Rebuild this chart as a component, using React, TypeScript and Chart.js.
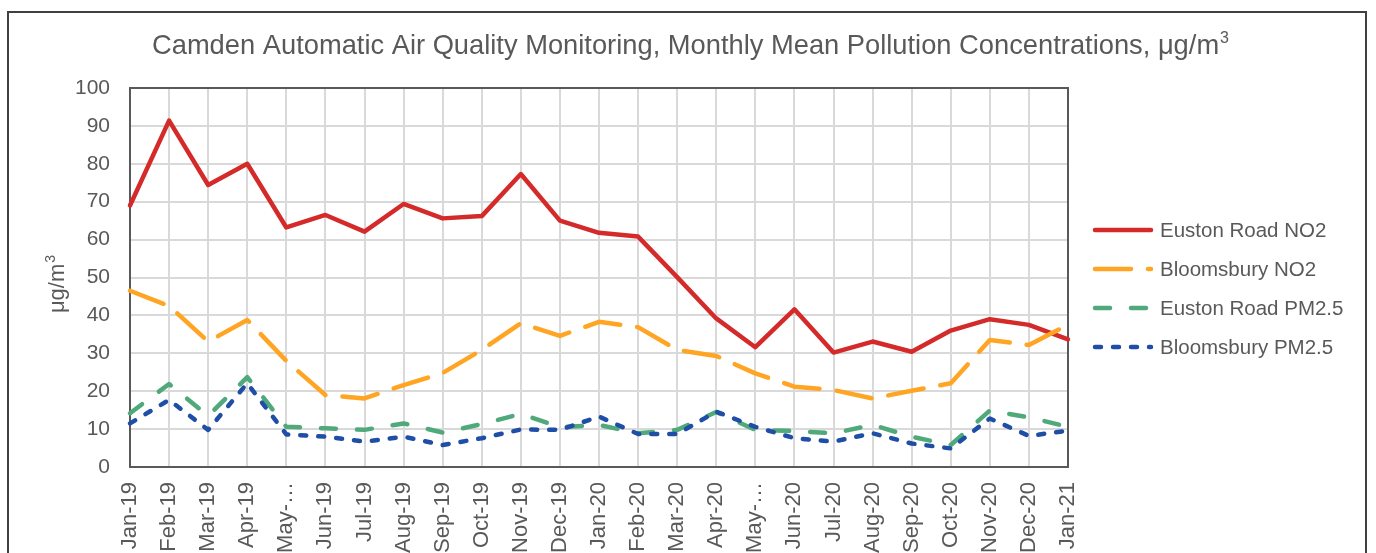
import React, { useEffect, useRef } from "react";
import { Chart, registerables } from "chart.js";
Chart.register(...registerables);

const months = [
  "Jan-19", "Feb-19", "Mar-19", "Apr-19", "May-…", "Jun-19", "Jul-19", "Aug-19", "Sep-19",
  "Oct-19", "Nov-19", "Dec-19", "Jan-20", "Feb-20", "Mar-20", "Apr-20", "May-…", "Jun-20",
  "Jul-20", "Aug-20", "Sep-20", "Oct-20", "Nov-20", "Dec-20", "Jan-21",
];
const eustonNO2 = [69, 91.4, 74.4, 80, 63.2, 66.5, 62.1, 69.4, 65.6, 66.2, 77.3, 65, 61.8, 60.8, 50.1, 39.2, 31.6, 41.6, 30.2, 33.1, 30.4, 36, 39, 37.5, 33.7];
const bloomsburyNO2 = [46.5, 42.5, 33.1, 38.8, 28, 19, 18.1, 21.6, 24.8, 30.9, 37.9, 34.6, 38.3, 36.9, 30.9, 29.3, 24.7, 21.2, 20.3, 18.1, 20.1, 22.1, 33.5, 32.2, 37.5];
const eustonPM25 = [14.2, 21.9, 13.5, 23.7, 10.6, 10.2, 9.8, 11.5, 9.1, 11.3, 14, 10.5, 11.1, 8.9, 9.8, 14.5, 9.8, 9.5, 8.9, 11.1, 8, 5.8, 14.9, 13.1, 10.6];
const bloomsburyPM25 = [11.5, 17.7, 9.8, 22.1, 8.6, 8, 6.7, 8, 5.8, 7.6, 9.9, 9.8, 13.3, 8.7, 8.7, 14.6, 10.6, 7.6, 6.7, 8.9, 6.2, 4.9, 12.8, 8.2, 9.6];
const seriesNames = ["Euston Road NO2", "Bloomsbury NO2", "Euston Road PM2.5", "Bloomsbury PM2.5"];
const seriesColors = ["#D42A2A", "#FFA523", "#4FA97B", "#1F4EA6"];
const seriesDash: number[][] = [[], [36, 17], [15, 21], [6, 12]];

const TITLE_MAIN = "Camden Automatic Air Quality Monitoring, Monthly Mean Pollution Concentrations, μg/m";
const SUP = "3";
const Y_TITLE = "μg/m";
const TEXT = "#595959";
const FONT = "'Liberation Sans', Arial, sans-serif";

const decor = {
  id: "decor",
  beforeDatasetsDraw(chart: any) {
    const { ctx, chartArea } = chart;
    ctx.save();
    ctx.strokeStyle = "#595959";
    ctx.lineWidth = 2;
    ctx.strokeRect(chartArea.left, chartArea.top, chartArea.right - chartArea.left, chartArea.bottom - chartArea.top);
    ctx.restore();
  },
  afterDraw(chart: any) {
    const { ctx, chartArea } = chart;
    ctx.save();
    ctx.fillStyle = TEXT;
    ctx.textBaseline = "alphabetic";
    // title
    ctx.font = `27.3px ${FONT}`;
    const mw = ctx.measureText(TITLE_MAIN).width;
    ctx.font = `16px ${FONT}`;
    const sw = ctx.measureText(SUP).width;
    const cx = chart.width / 2 + 3;
    const x0 = cx - (mw + sw) / 2;
    ctx.font = `27.3px ${FONT}`;
    ctx.textAlign = "left";
    ctx.fillText(TITLE_MAIN, x0, 41);
    ctx.font = `16px ${FONT}`;
    ctx.fillText(SUP, x0 + mw + 1, 30);

    // y title
    ctx.save();
    ctx.translate(55, (chartArea.top + chartArea.bottom) / 2 + 7);
    ctx.rotate(-Math.PI / 2);
    ctx.font = `22px ${FONT}`;
    const yw = ctx.measureText(Y_TITLE).width;
    ctx.font = `14px ${FONT}`;
    const ysw = ctx.measureText(SUP).width;
    const yx0 = -(yw + ysw) / 2;
    ctx.font = `22px ${FONT}`;
    ctx.fillText(Y_TITLE, yx0, 0);
    ctx.font = `14px ${FONT}`;
    ctx.fillText(SUP, yx0 + yw + 1, -9);
    ctx.restore();

    // legend
    const lx = chartArea.right + 25;
    const ly0 = 217;
    const step = 39;
    seriesNames.forEach((name, i) => {
      const y = ly0 + i * step;
      ctx.save();
      ctx.strokeStyle = seriesColors[i];
      ctx.lineWidth = 4.5;
      ctx.lineCap = "round";
      ctx.setLineDash(seriesDash[i]);
      ctx.beginPath();
      ctx.moveTo(lx + 2, y);
      ctx.lineTo(lx + 58, y);
      ctx.stroke();
      ctx.restore();
      ctx.font = `20.5px ${FONT}`;
      ctx.textBaseline = "middle";
      ctx.textAlign = "left";
      ctx.fillStyle = TEXT;
      ctx.fillText(name, lx + 67, y + 1);
    });
    ctx.restore();
  },
};

export default function App() {
  const ref = useRef<HTMLCanvasElement>(null);
  useEffect(() => {
    const data = [eustonNO2, bloomsburyNO2, eustonPM25, bloomsburyPM25];
    const chart = new Chart(ref.current!, {
      type: "line",
      data: {
        labels: months,
        datasets: data.map((d, i) => ({
          label: seriesNames[i],
          data: d,
          borderColor: seriesColors[i],
          backgroundColor: seriesColors[i],
          borderWidth: 4.5,
          borderDash: seriesDash[i],
          borderCapStyle: "round" as const,
          borderJoinStyle: "round" as const,
          pointRadius: 0,
          tension: 0,
          clip: false as any,
          order: 4 - i,
        })),
      },
      options: {
        animation: false,
        responsive: false,
        layout: { padding: { left: 0, right: 297, top: 75, bottom: 0 } },
        plugins: { legend: { display: false }, title: { display: false }, tooltip: { enabled: false } },
        scales: {
          x: {
            offset: false,
            grid: { color: "#d9d9d9", lineWidth: 2, drawTicks: false },
            border: { display: true, color: "#595959", width: 2 },
            ticks: {
              autoSkip: false,
              minRotation: 90,
              maxRotation: 90,
              padding: 15,
              color: TEXT,
              font: { family: FONT, size: 22 },
            },
            afterFit: (s: any) => { s.height = 86; },
          },
          y: {
            min: 0,
            max: 100,
            ticks: { stepSize: 10, padding: 20, color: TEXT, font: { family: FONT, size: 21 } },
            grid: { color: "#d9d9d9", lineWidth: 2, drawTicks: false },
            border: { display: true, color: "#595959", width: 2 },
            afterFit: (s: any) => { s.width = 121; },
          },
        },
      },
      plugins: [decor],
    });
    return () => chart.destroy();
  }, []);
  return (
    <div
      style={{
        position: "absolute",
        left: 7,
        top: 11,
        width: 1360,
        height: 542,
        border: "2px solid #404040",
        borderBottom: "none",
        boxSizing: "border-box",
        overflow: "hidden",
        background: "#fff",
      }}
    >
      <canvas ref={ref} width={1356} height={540} style={{ display: "block" }} />
    </div>
  );
}
